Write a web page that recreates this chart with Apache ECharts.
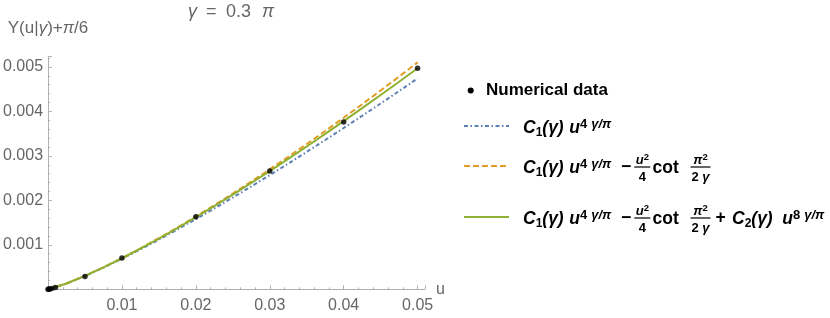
<!DOCTYPE html>
<html>
<head>
<meta charset="utf-8">
<script src="https://cdn.jsdelivr.net/npm/echarts/dist/echarts.min.js"></script>
<style>
html,body{margin:0;padding:0;background:#fff;}
#chart{width:830px;height:318px;}
</style>
</head>
<body>
<div id="chart"></div>
<script>
// ---- data ----
const uGrid = [0, 0.0025, 0.005, 0.0075, 0.01, 0.0125, 0.015, 0.0175, 0.02, 0.0225, 0.025,
  0.0275, 0.03, 0.0325, 0.035, 0.0375, 0.04, 0.0425, 0.045, 0.0475, 0.05];
// C1(γ) u^{4γ/π}  (blue, dot-dashed)
const leadingTerm = [0, 0.000130, 0.000299, 0.000487, 0.000687, 0.000898, 0.001117, 0.001345,
  0.001579, 0.001818, 0.002063, 0.002313, 0.002568, 0.002827, 0.003090, 0.003357, 0.003627,
  0.003901, 0.004178, 0.004457, 0.004741];
// ... − u²/4 cot(π²/2γ)  (orange, dashed)
const withCotTerm = [0, 0.000131, 0.000303, 0.000495, 0.000701, 0.000921, 0.001150, 0.001389,
  0.001637, 0.001891, 0.002153, 0.002422, 0.002698, 0.002979, 0.003267, 0.003560, 0.003858,
  0.004162, 0.004470, 0.004783, 0.005102];
// ... + C2(γ) u^{8γ/π}  (green, solid)
const withC2Term = [0, 0.000131, 0.000302, 0.000494, 0.000698, 0.000916, 0.001142, 0.001378,
  0.001622, 0.001872, 0.002128, 0.002391, 0.002659, 0.002932, 0.003211, 0.003494, 0.003781,
  0.004073, 0.004368, 0.004666, 0.004970];
// numerical data (black dots)
const numU = [0, 0.0001, 0.0002, 0.0005, 0.001, 0.005, 0.01, 0.02, 0.03, 0.04, 0.05];
const numY = [0, 0.0000027, 0.0000063, 0.000019, 0.000043, 0.00029, 0.000703, 0.00163, 0.00266, 0.00376, 0.00497];

const seriesNames = ['Numerical data', 'C1 u^(4γ/π)', 'C1 u^(4γ/π) − u²/4 cot(π²/2γ)', 'C1 u^(4γ/π) − u²/4 cot(π²/2γ) + C2 u^(8γ/π)'];

// ---- styling ----
const FONT = '"Liberation Sans", Arial, Helvetica, sans-serif';
const AXIS = '#b2b2b2';
const LAB = '#666666';
const BLUE = '#5E81B5', ORANGE = '#E19C24', GREEN = '#8FB032';
const MF = 17.5, SF = 13;

const zip = (xs, ys) => xs.map((x, i) => [x, ys[i]]);

function t(x, y, text, opt) {
  return {
    type: 'text', x: x, y: y, silent: true,
    style: Object.assign({
      text: text, fill: '#000', fontFamily: FONT, fontSize: MF, fontWeight: 'bold',
      align: 'left', verticalAlign: 'middle'
    }, opt || {})
  };
}
const mainRich = {
  m: { fontSize: MF, fontWeight: 'bold', fontStyle: 'italic', fontFamily: FONT, fill: '#000' },
  p: { fontSize: MF, fontWeight: 'bold', fontStyle: 'italic', fontFamily: FONT, fill: '#000', width: 22 },
  sp: { fontSize: MF, width: 5 },
  sp2: { fontSize: SF, width: 4, verticalAlign: 'top', lineHeight: 14 },
  sub: { fontSize: 12, fontWeight: 'bold', fontFamily: FONT, fill: '#000', verticalAlign: 'bottom', lineHeight: 13 },
  sup: { fontSize: SF, fontWeight: 'bold', fontStyle: 'italic', fontFamily: FONT, fill: '#000', verticalAlign: 'top', lineHeight: 14 },
  supr: { fontSize: SF, fontWeight: 'bold', fontFamily: FONT, fill: '#000', verticalAlign: 'top', lineHeight: 14 }
};
function rich(x, y, text, align) {
  return t(x, y, text, { rich: mainRich, lineHeight: 21, align: align || 'left' });
}
const fracRich = {
  m: { fontSize: 13, fontWeight: 'bold', fontStyle: 'italic', fontFamily: FONT, fill: '#000' },
  r: { fontSize: 13, fontWeight: 'bold', fontFamily: FONT, fill: '#000' },
  sup: { fontSize: 9.5, fontWeight: 'bold', fontFamily: FONT, fill: '#000', verticalAlign: 'top', lineHeight: 10 }
};
function frac(cx, bar, num, den, w) {
  return [
    t(cx, bar - 7, num, { rich: fracRich, lineHeight: 16, align: 'center' }),
    { type: 'line', silent: true, shape: { x1: cx - w / 2, y1: bar, x2: cx + w / 2, y2: bar }, style: { stroke: '#000', lineWidth: 1.2 } },
    t(cx, bar + 10.5, den, { rich: fracRich, lineHeight: 16, align: 'center' })
  ];
}
function legLine(y, color, dash) {
  return { type: 'line', silent: true, shape: { x1: 464, y1: y, x2: 509, y2: y },
    style: { stroke: color, lineWidth: 2, lineDash: dash } };
}
const C1part = '{m|C}{sub|1}{p|(γ)}{sp| }{m|u}{supr|4}{sp2| }{sup|γ/π}';

function legendRow(y, withCot, withC2) {
  const els = [rich(523, y + 2, C1part)];
  if (withCot) {
    els.push(t(621, y + 1, '−', { fontSize: MF }));
    els.push(...frac(642.3, y + 1, '{m|u}{sup|2}', '{r|4}', 16));
    els.push(t(652.5, y + 2, 'cot', { fontSize: MF }));
    els.push(...frac(700.5, y + 1, '{m|π}{sup|2}', '{r|2 }{m|γ}', 20));
  }
  if (withC2) {
    els.push(t(715.5, y + 1.5, '+', { fontSize: MF }));
    els.push(rich(732, y + 2, '{m|C}{sub|2}{p|(γ)}{sp| }{sp2| }{m|u}{supr|8}{sp2| }{sup|γ/π}'));
  }
  return els;
}

const graphics = [
  // title
  t(188, 12, 'γ', { fontSize: 18, fontWeight: 'normal', fontStyle: 'italic', fill: LAB }),
  t(206, 12, '=', { fontSize: 18, fontWeight: 'normal', fill: LAB }),
  t(226, 12, '0.3', { fontSize: 18, fontWeight: 'normal', fill: LAB }),
  t(262, 12, 'π', { fontSize: 18, fontWeight: 'normal', fontStyle: 'italic', fill: LAB }),
  // legend
  { type: 'circle', silent: true, shape: { cx: 470.7, cy: 90.5, r: 3 }, style: { fill: '#000' } },
  t(486, 90.5, seriesNames[0], { fontSize: 17 }),
  legLine(126, BLUE, [4, 2.5, 1.5, 2.5]),
  legLine(166, ORANGE, [6, 3]),
  legLine(217, GREEN, null)
].concat(legendRow(126, false, false), legendRow(166, true, false), legendRow(217, true, true));

const chart = echarts.init(document.getElementById('chart'), null, { renderer: 'canvas' });
chart.setOption({
  animation: false,
  backgroundColor: '#fff',
  grid: { left: 47.7, right: 405, top: 56.7, bottom: 28.7, containLabel: false },
  xAxis: {
    type: 'value', min: 0, max: 0.051, interval: 0.01,
    name: 'u', nameLocation: 'end', nameGap: 11,
    nameTextStyle: { color: LAB, fontSize: 16, fontFamily: FONT, verticalAlign: 'middle', padding: [3, 0, 0, 0] },
    axisLine: { show: true, onZero: false, lineStyle: { color: AXIS, width: 1 } },
    axisTick: { show: true, inside: true, length: 4, lineStyle: { color: AXIS } },
    minorTick: { show: true, splitNumber: 5, length: 2, lineStyle: { color: AXIS } },
    splitLine: { show: false },
    axisLabel: { color: LAB, fontSize: 16, fontFamily: FONT, margin: 8, showMinLabel: false, showMaxLabel: false,
      formatter: v => (Math.abs(v / 0.01 - Math.round(v / 0.01)) < 1e-6 && v > 0) ? String(+v.toFixed(2)) : '' }
  },
  yAxis: {
    type: 'value', min: 0, max: 0.00523, interval: 0.001,
    name: '{n|Y(u|}{i|γ}{n|)+}{i|π}{n|/6}', nameLocation: 'end', nameGap: 20,
    nameTextStyle: { color: LAB, fontSize: 17, fontFamily: FONT,
      rich: { n: { color: LAB, fontSize: 17, fontFamily: FONT }, i: { color: LAB, fontSize: 17, fontFamily: FONT, fontStyle: 'italic' } } },
    axisLine: { show: true, onZero: false, lineStyle: { color: AXIS, width: 1 } },
    axisTick: { show: true, inside: true, length: 4, lineStyle: { color: AXIS } },
    minorTick: { show: true, splitNumber: 5, length: 2, lineStyle: { color: AXIS } },
    splitLine: { show: false },
    axisLabel: { color: LAB, fontSize: 16, fontFamily: FONT, margin: 5, showMinLabel: false, showMaxLabel: false,
      formatter: v => (v > 0 && Math.abs(v / 0.001 - Math.round(v / 0.001)) < 1e-6) ? (+v.toFixed(3)).toFixed(3) : '' }
  },
  series: [
    { name: seriesNames[1], type: 'line', data: zip(uGrid, leadingTerm), showSymbol: false, smooth: false,
      lineStyle: { color: BLUE, width: 2, type: [4, 2.5, 1.5, 2.5] }, z: 2 },
    { name: seriesNames[2], type: 'line', data: zip(uGrid, withCotTerm), showSymbol: false, smooth: false,
      lineStyle: { color: ORANGE, width: 2, type: [6, 3] }, z: 3 },
    { name: seriesNames[3], type: 'line', data: zip(uGrid, withC2Term), showSymbol: false, smooth: false,
      lineStyle: { color: GREEN, width: 2 }, z: 4 },
    { name: seriesNames[0], type: 'scatter', data: zip(numU, numY), symbol: 'circle', symbolSize: 5.5,
      itemStyle: { color: '#000' }, z: 5 }
  ],
  graphic: graphics
});
</script>
</body>
</html>
